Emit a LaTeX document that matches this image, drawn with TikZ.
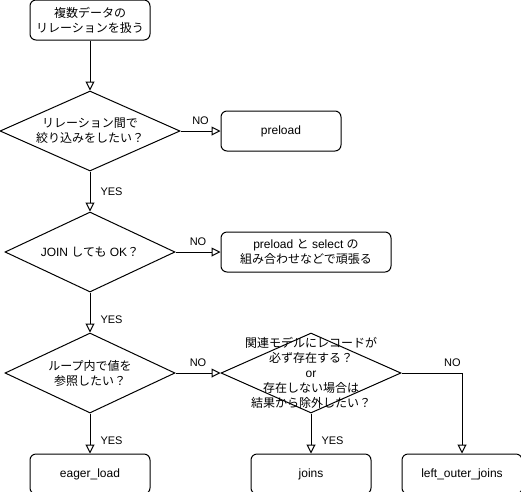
\documentclass[tikz,border=0pt]{standalone}
\usepackage{fontspec}
\setmainfont{Liberation Sans}
\newfontfamily\jp{Noto Sans CJK JP}
\usetikzlibrary{shapes.geometric, arrows.meta, positioning}

\begin{document}
\begin{tikzpicture}[
    box/.style={rectangle, rounded corners=6pt, draw=black, fill=white, text=black, line width=1pt, minimum width=120pt, minimum height=40pt, align=center, font=\fontsize{12}{15}\selectfont},
    decision/.style={diamond, draw=black, fill=white, text=black, line width=1pt, inner sep=0pt, minimum width=170pt, minimum height=80pt, shape aspect=2.2, align=center, font=\fontsize{12}{15}\selectfont},
    ja/.style={font=\fontsize{12}{15}\selectfont\jp},
    flow/.style={draw=black, line width=1pt, -{Triangle[open, length=9pt, width=9pt]}},
    answer/.style={text=black, inner sep=3pt, font=\fontsize{11}{13}\selectfont}
  ]
    \useasboundingbox (0,0) rectangle (521pt,-491pt);%page size
    \node (start) [box, ja] at (90pt,-20pt) {複数データの\\リレーションを扱う};%start box
    \node (filter) [decision, ja, minimum width=180pt, below=50pt of start] {リレーション間で\\絞り込みをしたい？};%first question
    \node (preload) [box, right=40pt of filter] {preload};%no filtering
    \node (joinok) [decision, below=40pt of filter] {JOIN {\jp しても} OK{\jp ？}};%second question
    \node (select) [box, minimum width=170pt, right=45pt of joinok] {preload {\jp と} select {\jp の}\\{\jp 組み合わせなどで頑張る}};%no join
    \node (loop) [decision, ja, below=40pt of joinok] {ループ内で値を\\参照したい？};%third question
    \node (exists) [decision, minimum width=180pt, right=45pt of loop, label={[ja, align=center]center:{関連モデルにレコードが\\必ず存在する？\\\textrm{or}\\存在しない場合は\\結果から除外したい？}}] {};%fourth question
    \node (eager) [box, below=40pt of loop] {eager\_load};%loop answer
    \node (joins) [box, below=40pt of exists] {joins};%inner join
    \node (outer) [box, right=30pt of joins] {left\_outer\_joins};%outer join
    \draw [flow] (start) -- (filter);
    \draw [flow] (filter) -- node[answer, above=3pt]{NO} (preload);
    \draw [flow] (filter) -- node[answer, right=7pt]{YES} (joinok);
    \draw [flow] (joinok) -- node[answer, above=3pt]{NO} (select);
    \draw [flow] (joinok) -- node[answer, right=7pt, pos=0.68]{YES} (loop);
    \draw [flow] (loop) -- node[answer, above=3pt]{NO} (exists);
    \draw [flow] (loop) -- node[answer, right=7pt, pos=0.68]{YES} (eager);
    \draw [flow] (exists) -- node[answer, right=7pt, pos=0.68]{YES} (joins);
    \draw [flow] (exists.east) -| node[answer, above=3pt, pos=0.42]{NO} (outer);
  \end{tikzpicture}
\end{document}
